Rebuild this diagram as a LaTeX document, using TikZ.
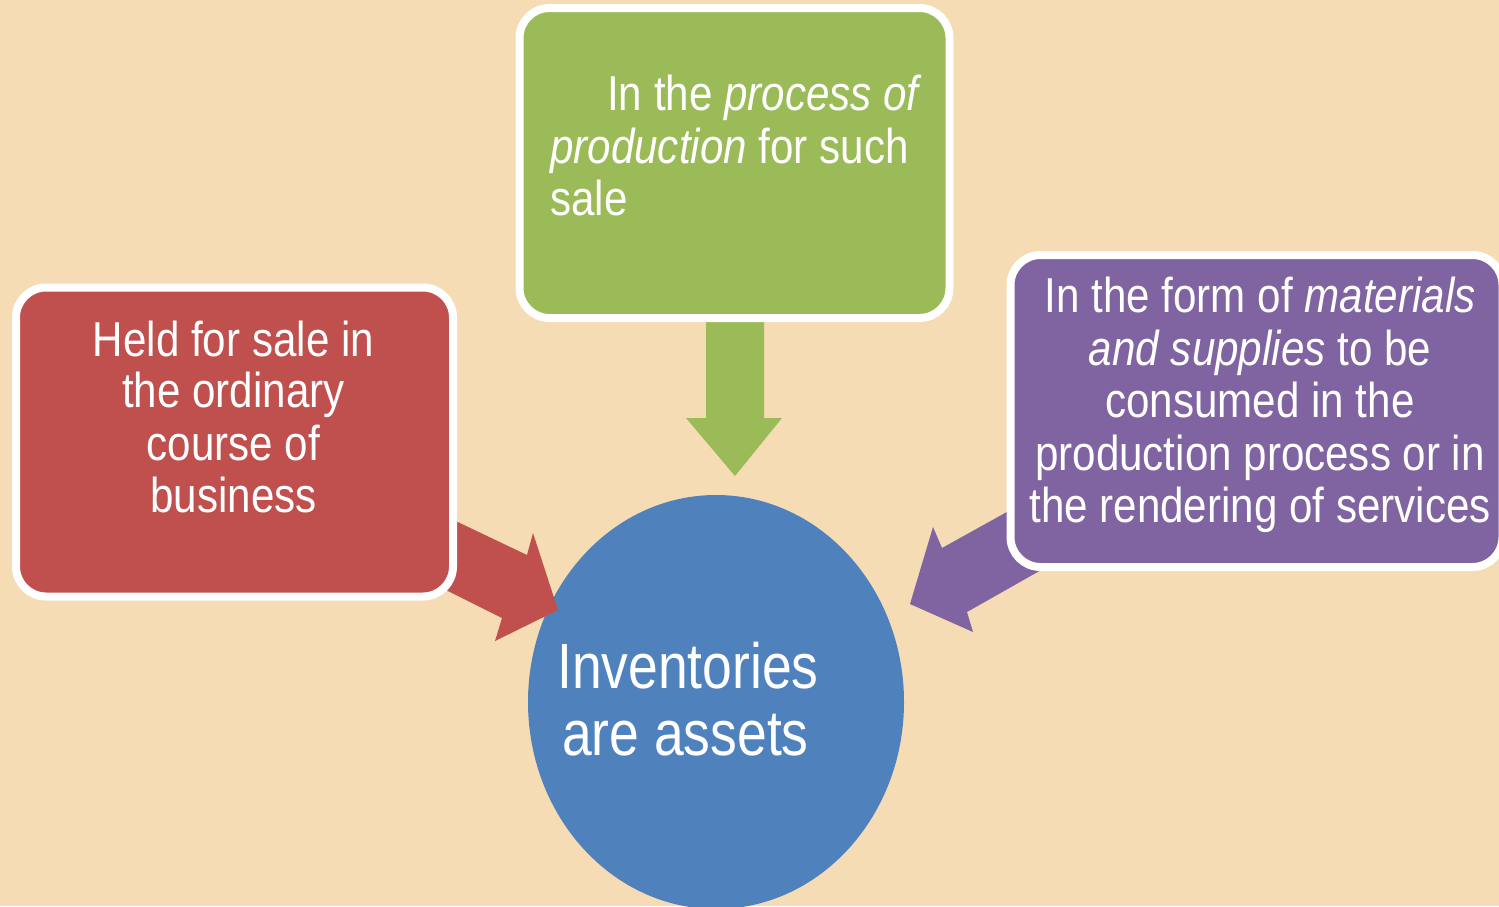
\documentclass[tikz,border=0pt]{standalone}
\usepackage{fontspec}
\usetikzlibrary{shapes.geometric}
\setmainfont[FakeStretch=0.86]{Liberation Sans}
\newfontfamily\circfont[FakeStretch=0.835]{Liberation Sans}
\definecolor{bgc}{RGB}{245,220,180}
\definecolor{redc}{RGB}{192,80,77}
\definecolor{greenc}{RGB}{155,187,89}
\definecolor{purplec}{RGB}{128,100,162}
\definecolor{bluec}{RGB}{79,129,189}
\begin{document}
\begin{tikzpicture}[x=1pt,y=-1pt,
  box/.style={rectangle, draw=white, line width=8pt, rounded corners=30pt, inner sep=0pt},
  boxtext/.style={text=white, font=\fontsize{49}{52}\selectfont, inner sep=0pt},
  circtext/.style={text=white, font=\circfont\fontsize{64}{67}\selectfont, inner sep=0pt}]
\useasboundingbox (0,0) rectangle (1499,906);
\fill[bgc] (0,0) rectangle (1499,906);
% circle
\node[ellipse, fill=bluec, minimum width=376pt, minimum height=414pt, inner sep=0pt] (inv) at (716,702) {};
% arrows
\coordinate (rt) at (558,610);
\fill[redc] (420,504) -- (527,555) -- (533,533) -- (rt) -- (495,641) -- (502,618) -- (420,577) -- cycle;
\coordinate (gt) at (735,476);
\fill[greenc] (706,300) -- (764,300) -- (764,418) -- (782,418) -- (gt) -- (686,418) -- (706,418) -- cycle;
\coordinate (pt) at (910,604);
\fill[purplec] (1050,488) -- (942,548) -- (933,527) -- (pt) -- (973,632) -- (967,612) -- (1050,565) -- cycle;
% boxes
\node[box, fill=redc, minimum width=437pt, minimum height=309pt] (held) at (234.5,442) {};
\node[box, fill=greenc, minimum width=430pt, minimum height=310pt] (proc) at (734.5,163) {};
\node[box, fill=purplec, minimum width=492pt, minimum height=312pt] (form) at (1256.5,411) {};
% red text
\node[boxtext, anchor=base] (h1) at (233.5,356.7) {Held for sale in};
\node[boxtext, anchor=base] (h2) at (233.5,407.5) {the ordinary};
\node[boxtext, anchor=base] (h3) at (233.5,460.5) {course of};
\node[boxtext, anchor=base] (h4) at (233.5,512.5) {business};
% green text
\node[boxtext, anchor=base west] (p1) at (607,110) {In the \textit{process of}};
\node[boxtext, anchor=base west] (p2) at (550,163) {\textit{production} for such};
\node[boxtext, anchor=base west] (p3) at (550,215) {sale};
% purple text
\node[boxtext, anchor=base] (f1) at (1260,312) {In the form of \textit{materials}};
\node[boxtext, anchor=base] (f2) at (1260,365) {\textit{and supplies} to be};
\node[boxtext, anchor=base] (f3) at (1260,417) {consumed in the};
\node[boxtext, anchor=base] (f4) at (1260,470) {production process or in};
\node[boxtext, anchor=base] (f5) at (1260,522) {the rendering of services};
% circle text
\node[circtext, anchor=base west] (c1) at (557,688) {Inventories};
\node[circtext, anchor=base west] (c2) at (562,755) {are assets};
\end{tikzpicture}
\end{document}
